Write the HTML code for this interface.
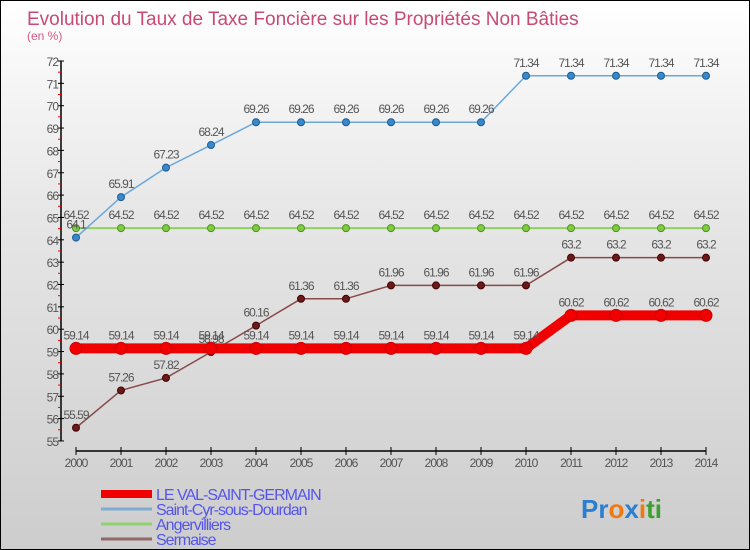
<!DOCTYPE html>
<html><head><meta charset="utf-8"><style>
body{margin:0}
#c{width:750px;height:550px;position:relative;overflow:hidden;box-sizing:border-box;border:1px solid #000;background:linear-gradient(#fff 0%,#e6e6e6 40%,#cdcdcd 100%);font-family:"Liberation Sans",sans-serif}
</style></head><body>
<div id="c">
<svg id="s" width="750" height="550">
<text x="26" y="24" font-size="19" fill="#c84a72">Evolution du Taux de Taxe Foncière sur les Propriétés Non Bâties</text>
<text x="26" y="39" font-size="12" fill="#d05a80">(en %)</text>
<text x="580" y="517" font-size="26" font-weight="bold"><tspan fill="#2a7fd0">Pr</tspan><tspan fill="#f07a10">o</tspan><tspan fill="#2a7fd0">x</tspan><tspan fill="#f07a10">i</tspan><tspan fill="#3aa030">ti</tspan></text>
</svg>
</div>
<script>
const years=[2000,2001,2002,2003,2004,2005,2006,2007,2008,2009,2010,2011,2012,2013,2014];
const valSaintGermain=[59.14,59.14,59.14,59.14,59.14,59.14,59.14,59.14,59.14,59.14,59.14,60.62,60.62,60.62,60.62];
const saintCyr=[64.1,65.91,67.23,68.24,69.26,69.26,69.26,69.26,69.26,69.26,71.34,71.34,71.34,71.34,71.34];
const angervilliers=[64.52,64.52,64.52,64.52,64.52,64.52,64.52,64.52,64.52,64.52,64.52,64.52,64.52,64.52,64.52];
const sermaise=[55.59,57.26,57.82,58.98,60.16,61.36,61.36,61.96,61.96,61.96,61.96,63.2,63.2,63.2,63.2];
const yTicks=[55,56,57,58,59,60,61,62,63,64,65,66,67,68,69,70,71,72];
const svg=document.getElementById('s');const NS='http://www.w3.org/2000/svg';
const xS=i=>75+i*45;const yS=v=>60+(72-v)*22.35;
function el(t,a,p){const e=document.createElementNS(NS,t);for(const k in a)e.setAttribute(k,a[k]);(p||svg).appendChild(e);return e;}
const ax=el('g',{});
el('line',{x1:60,y1:yS(72),x2:60,y2:yS(55),stroke:'#000','stroke-width':1.5},ax);
el('line',{x1:75,y1:450,x2:705,y2:450,stroke:'#000','stroke-width':1.5},ax);
yTicks.forEach(v=>{el('line',{x1:57,y1:yS(v),x2:63,y2:yS(v),stroke:'#000'},ax);
if(v<72)el('line',{x1:57,y1:yS(v+0.5),x2:60,y2:yS(v+0.5),stroke:'#e00'},ax);
const t=el('text',{x:57,y:yS(v)+5,'font-size':12,fill:'#555','text-anchor':'end','letter-spacing':'-1'},ax);t.textContent=v;
});
years.forEach((y,i)=>{el('line',{x1:xS(i),y1:446,x2:xS(i),y2:454,stroke:'#000'},ax);
const t=el('text',{x:xS(i),y:466,'font-size':12,fill:'#555','text-anchor':'middle','letter-spacing':'-1'},ax);t.textContent=y;
});
function series(data,name,color,w,dot,dotStroke,r){
const g=el('g',{});
el('polyline',{points:data.map((v,i)=>xS(i)+','+yS(v)).join(' '),fill:'none',stroke:color,'stroke-width':w},g);
data.forEach((v,i)=>{const c=el('circle',{cx:xS(i),cy:yS(v),r:r,fill:dot,stroke:dotStroke},g);

const t=el('text',{x:xS(i),y:yS(v)-9,'font-size':12,fill:'#555','text-anchor':'middle','letter-spacing':'-1'},g);t.textContent=v;
});}
series(angervilliers,'angervilliers-line','#8fd060',2,'#80cc40','#4a9020',3.5);
series(saintCyr,'saint-cyr-line','#6aa8dc',1.5,'#3a88cc','#1a5a90',3.5);
series(sermaise,'sermaise-line','#8a4a4a',1.5,'#6a1a1a','#400',3.5);
series(valSaintGermain,'val-saint-germain-line','#f00000',10,'#f00000','#c00',6);
const leg=[['LE VAL-SAINT-GERMAIN','#f00000',8],['Saint-Cyr-sous-Dourdan','#80acd0',3],['Angervilliers','#90d070',3],['Sermaise','#906868',3]];
leg.forEach((l,i)=>{const g=el('g',{});
el('line',{x1:100,y1:493+i*15,x2:151,y2:493+i*15,stroke:l[1],'stroke-width':l[2]},g);
const t=el('text',{x:155,y:499+i*15,'font-size':16,fill:'#5555ee','letter-spacing':'-1'},g);t.textContent=l[0];});
</script>
</body></html>
